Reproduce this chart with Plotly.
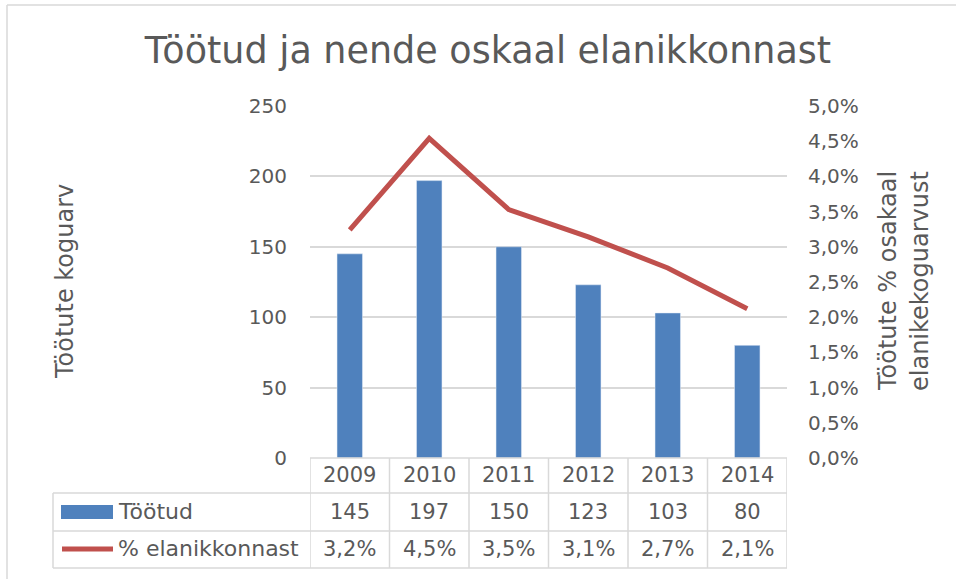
import plotly.graph_objects as go

years = ["2009", "2010", "2011", "2012", "2013", "2014"]
tootud = [145, 197, 150, 123, 103, 80]
osakaal = [3.24, 4.54, 3.53, 3.14, 2.70, 2.12]
left_ticks = [0, 50, 100, 150, 200, 250]
right_ticks = [0.0, 0.5, 1.0, 1.5, 2.0, 2.5, 3.0, 3.5, 4.0, 4.5, 5.0]


def pct(v):
    return f"{v:.1f}".replace(".", ",") + "%"


FONT = "DejaVu Sans"
TXT = "#595959"
GRID = "#d9d9d9"
BLUE = "#4F81BD"
RED = "#C0504D"

W, H = 956, 579
L, R, T, B = 310, 169, 106, 121
PW, PH = W - L - R, H - T - B


def px(x):
    return (x - L) / PW


def py(y):
    return (H - B - y) / PH


fig = go.Figure()
fig.add_trace(go.Bar(x=years, y=tootud, name="Töötud", marker_color=BLUE,
                     width=0.32, yaxis="y"))
fig.add_trace(go.Scatter(x=years, y=osakaal, name="% elanikkonnast", mode="lines",
                         line=dict(color=RED, width=5), yaxis="y2"))

shapes = []
line = dict(color=GRID, width=1.5)
shapes.append(dict(type="line", xref="paper", yref="paper", x0=0, x1=1,
                   y0=0, y1=0, line=line))
for yy in [493, 531, 568]:
    shapes.append(dict(type="line", xref="paper", yref="paper", x0=px(53), x1=1,
                       y0=py(yy), y1=py(yy), line=line))
shapes.append(dict(type="line", xref="paper", yref="paper", x0=px(53), x1=px(53),
                   y0=py(493), y1=py(568), line=line))
for i in range(len(years) + 1):
    shapes.append(dict(type="line", xref="x", yref="paper", x0=i - 0.5, x1=i - 0.5,
                       y0=0, y1=py(568), line=line))
shapes.append(dict(type="rect", xref="paper", yref="paper", x0=px(61), x1=px(113),
                   y0=py(519), y1=py(505), fillcolor=BLUE, line=dict(width=0)))
shapes.append(dict(type="line", xref="paper", yref="paper", x0=px(62), x1=px(113),
                   y0=py(549), y1=py(549), line=dict(color=RED, width=5)))
shapes.append(dict(type="line", xref="paper", yref="paper", x0=px(7), x1=px(956),
                   y0=py(5), y1=py(5), line=dict(color=GRID, width=1.5)))
shapes.append(dict(type="line", xref="paper", yref="paper", x0=px(7), x1=px(7),
                   y0=py(5), y1=py(579), line=dict(color=GRID, width=1.5)))

annotations = []
tf = dict(family=FONT, size=20, color=TXT)
cf = dict(family=FONT, size=21, color=TXT)
lf = dict(family=FONT, size=22, color=TXT)
for i, yr in enumerate(years):
    annotations.append(dict(x=i, y=py(475), xref="x", yref="paper", text=yr,
                            xanchor="center", yanchor="middle",
                            showarrow=False, font=cf))
    annotations.append(dict(x=i, y=py(512), xref="x", yref="paper",
                            xanchor="center", yanchor="middle",
                            text=str(tootud[i]), showarrow=False, font=cf))
    annotations.append(dict(x=i, y=py(549), xref="x", yref="paper",
                            xanchor="center", yanchor="middle",
                            text=pct(osakaal[i]), showarrow=False, font=cf))
annotations.append(dict(x=px(116), y=py(511), xref="paper", yref="paper",
                        text="Töötud", showarrow=False, xanchor="left",
                        yanchor="middle", font=lf))
annotations.append(dict(x=px(116), y=py(548), xref="paper", yref="paper",
                        text="% elanikkonnast", showarrow=False, xanchor="left",
                        yanchor="middle", font=lf))
# axis titles
af = dict(family=FONT, size=24, color=TXT)
annotations.append(dict(x=px(65), y=py(282), xref="paper", yref="paper",
                        xanchor="center", yanchor="middle",
                        text="Töötute koguarv", textangle=-90, showarrow=False,
                        font=af))
annotations.append(dict(x=px(888), y=py(281), xref="paper", yref="paper",
                        xanchor="center", yanchor="middle",
                        text="Töötute % osakaal", textangle=-90,
                        showarrow=False, font=af))
annotations.append(dict(x=px(920), y=py(281), xref="paper", yref="paper",
                        xanchor="center", yanchor="middle",
                        text="elanikekoguarvust", textangle=-90,
                        showarrow=False, font=af))

fig.update_layout(
    width=W, height=H,
    margin=dict(l=L, r=R, t=T, b=B),
    paper_bgcolor="white", plot_bgcolor="white",
    showlegend=False,
    title=dict(text="Töötud ja nende oskaal elanikkonnast", x=px(488), xref="paper",
               xanchor="center", y=1 - 50 / H, yref="container", yanchor="middle",
               font=dict(family=FONT, size=36.5, color=TXT)),
    xaxis=dict(type="category", showticklabels=False, showgrid=False, zeroline=False,
               showline=False, ticks="", range=[-0.5, 5.5]),
    yaxis=dict(range=[0, 250], tickvals=left_ticks, showgrid=True, gridcolor=GRID,
               gridwidth=1.5, zeroline=False, showline=False, ticks="",
               ticklabelstandoff=22, tickfont=tf),
    yaxis2=dict(range=[0, 5], tickvals=right_ticks,
                ticktext=[pct(v) for v in right_ticks],
                overlaying="y", side="right", showgrid=False, zeroline=False,
                showline=False, ticks="", ticklabelstandoff=20, tickfont=tf),
    shapes=shapes,
    annotations=annotations,
)

fig.write_html("out.html", config={"displayModeBar": False},
               post_script="document.body.style.margin='0';")
